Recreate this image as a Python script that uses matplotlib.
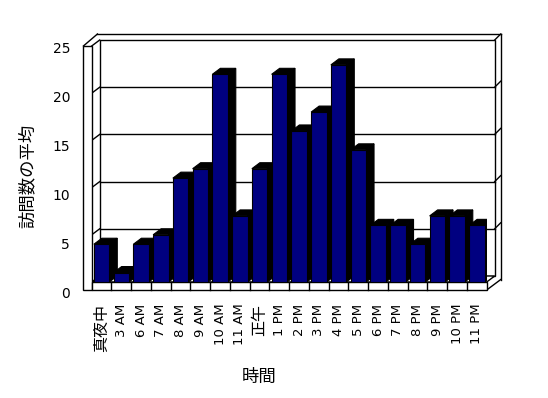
import numpy as np
import matplotlib
matplotlib.use('Agg')
import matplotlib.pyplot as plt
from matplotlib.patches import Polygon

plt.rcParams['font.family'] = ['DejaVu Sans', 'Noto Sans CJK JP']

# データ
hours = ['真夜中', '3 AM', '6 AM', '7 AM', '8 AM', '9 AM', '10 AM', '11 AM', '正午',
         '1 PM', '2 PM', '3 PM', '4 PM', '5 PM', '6 PM', '7 PM', '8 PM', '9 PM',
         '10 PM', '11 PM']
visits = [4, 1, 4, 5, 11, 12, 22, 7, 12, 22, 16, 18, 23, 14, 6, 6, 4, 7, 7, 6]
y_ticks = [0, 5, 10, 15, 20, 25]

W, H = 548, 398
fig = plt.figure(figsize=(W / 100, H / 100), dpi=100)
fig.patch.set_facecolor('white')

# 前面の軸 (x: 91.7..486.7px, y: 282..46px)
ax = fig.add_axes([91.7 / W, (H - 282) / H, 395 / W, 236 / H])
n = len(visits)
x = np.arange(n)
ax.set_xlim(-0.5, n - 0.5)
ax.set_ylim(0, 25)
ax.patch.set_visible(False)
for s in ax.spines.values():
    s.set_visible(False)
ax.set_yticks([])

# 奥行き (データ単位)
DX, DY = 8 / 19.75, 6 / 9.44      # 奥行き
LT = 8.3 / 19.75                  # 左壁の厚み
RT, RY = 6 / 19.75, 6 / 9.44      # 奥壁の厚み
FB = -8 / 9.44                    # 床の厚み
x0, x1 = -0.5, n - 0.5
top = y_ticks[-1]
lk = dict(color='black', lw=1, clip_on=False)

# 奥の壁
ax.add_patch(Polygon([(x0 + DX, DY), (x1 + DX, DY), (x1 + DX, top + DY), (x0 + DX, top + DY)],
                     closed=True, fc='white', ec='black', lw=1, clip_on=False, zorder=1))
# 床
ax.add_patch(Polygon([(x0, 0), (x1, 0), (x1 + DX, DY), (x0 + DX, DY)],
                     closed=True, fc='white', ec='black', lw=1, clip_on=False, zorder=1))
# 目盛線
for v in y_ticks[1:-1]:
    ax.plot([x0 + DX, x1 + DX], [v + DY, v + DY], zorder=2, **lk)
    ax.plot([x0, x0 + DX], [v, v + DY], zorder=2, **lk)
    ax.plot([x1 + DX, x1 + DX + RT], [v + DY, v + DY + RY], zorder=2, **lk)
# 壁の外枠
ax.plot([x0 + DX, x0], [top + DY, top], zorder=2, **lk)
ax.plot([x0 - LT, x0 - LT + 0.71], [top, top + DY + RY], zorder=2, **lk)
ax.plot([x0 - LT + 0.71, x1 + DX + RT], [top + DY + RY] * 2, zorder=2, **lk)
ax.plot([x1 + DX, x1 + DX + RT], [top + DY, top + DY + RY], zorder=2, **lk)
ax.plot([x1 + DX + RT] * 2, [top + DY + RY, 0.26], zorder=2, **lk)
ax.plot([x1 + DX + RT, x1], [0.26, FB], zorder=2, **lk)
# 左壁の前面
ax.add_patch(Polygon([(x0 - LT, FB), (x0, FB), (x0, top), (x0 - LT, top)],
                     closed=True, fc='white', ec='black', lw=1, clip_on=False, zorder=3))
# 床の前面
ax.add_patch(Polygon([(x0, FB), (x1, FB), (x1, 0), (x0, 0)],
                     closed=True, fc='white', ec='black', lw=1, clip_on=False, zorder=3))
for b in x[:-1] + 0.5:
    ax.plot([b, b], [FB, 0], zorder=3, **lk)

# 棒
bw = 15.4 / 19.75
bars = ax.bar(x, visits, width=bw, color='#000080', edgecolor='black', lw=0.8)
for i, (xi, v) in enumerate(zip(x, visits)):
    l, r = xi - bw / 2, xi + bw / 2
    z = 5 + 2 * i
    ax.add_patch(Polygon([(r, 0), (r + DX, DY), (r + DX, v + DY), (r, v)],
                         closed=True, fc='black', ec='black', lw=0.8, zorder=z))
    ax.add_patch(Polygon([(l, v), (r, v), (r + DX, v + DY), (l + DX, v + DY)],
                         closed=True, fc='black', ec='black', lw=0.8, zorder=z))
    bars.patches[i].set_zorder(z + 1)

# x 軸ラベル
ax.set_xticks(x)
ax.set_xticklabels(hours, rotation=90, fontsize=9.5)
ax.tick_params(axis='x', length=0, pad=15.5)
for t in ax.get_xticklabels():
    if not t.get_text().isascii():
        t.set_fontsize(11.5)
ax.set_xlabel('時間', fontsize=12.5)
ax.xaxis.set_label_coords((259 - 91.7) / 395, (282 - 368) / 236)

# y 軸ラベル (別の軸に配置)
ax_lab = fig.add_axes([91.7 / W, (H - 292) / H, 395 / W, (292 - 47.5) / H])
ax_lab.set_ylim(0, 25)
ax_lab.set_yticks(y_ticks)
ax_lab.set_xticks([])
ax_lab.tick_params(axis='y', length=0, pad=15.6, labelsize=10)
ax_lab.patch.set_visible(False)
for s in ax_lab.spines.values():
    s.set_visible(False)
ax_lab.set_ylabel('訪問数の平均', fontsize=12.5, va='center')
ax_lab.yaxis.set_label_coords((28 - 91.7) / 395, (292 - 176) / 244.5)

fig.savefig('out.png', dpi=100, facecolor='white')
